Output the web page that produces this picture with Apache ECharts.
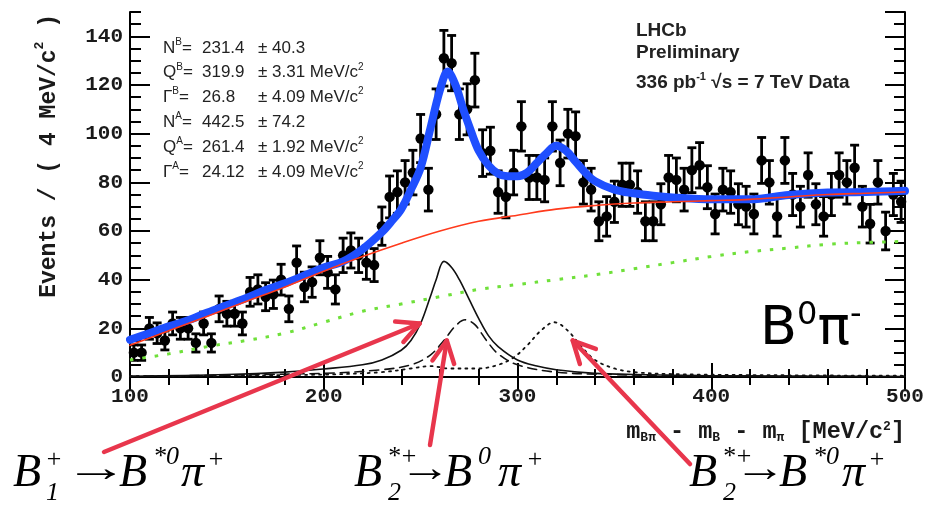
<!DOCTYPE html>
<html>
<head>
<meta charset="utf-8">
<script src="https://cdn.jsdelivr.net/npm/echarts@6/dist/echarts.min.js"></script>
<style>
  html, body { margin: 0; padding: 0; background: #ffffff; }
  #chart { width: 951px; height: 516px; }
</style>
</head>
<body>
<div id="chart"></div>
<script>
// Histogram binning: 100 bins of 4 MeV/c^2 between 100 and 500
const binLow = 100;
const binWidth = 4;

// Events per bin
const counts = [
  10, 10, 20, 18, 15, 22, 20, 20, 14, 22,
  14, 28, 26, 26, 22, 35, 36, 33, 34, 40,
  28, 47, 37, 39, 49, 43, 36, 50, 52, 50,
  47, 46, 62, 74, 76, 80, 84, 98, 77, 108,
  131, 129, 108, 110, 122, 92, 93, 76, 74, 84,
  103, 82, 82, 81, 103, 88, 100, 99, 80, 77,
  64, 66, 72, 79, 79, 76, 64, 64, 71, 82,
  81, 77, 85, 87, 78, 67, 77, 76, 71, 70,
  67, 89, 80, 66, 89, 75, 70, 83, 71, 66,
  75, 83, 80, 86, 70, 63, 80, 60, 75, 72
];

// Total fit (blue)
const totalX = [100,110,120,130,140,150,160,170,180,190,200,210,220,230,235,240,245,250,255,260,264,268,272,276,280,285,290,295,300,305,310,315,320,325,330,335,340,350,360,370,380,400,420,440,460,480,500];
const totalY = [15.3,18,20.8,23.3,26.5,29.5,32.5,35.8,38.5,41.7,45,47.5,52.5,59.5,64,69,77,86,102,118,125.5,120,110,101,93,87,83.5,82.5,82.5,84,88,92,95,93,88.5,84,80.5,77,75.5,74.5,73.8,73,73,74.8,75.8,76,76.5];

// Combinatorial background (red)
const bkgX = [100,120,140,160,180,200,220,240,260,280,300,320,340,360,380,400,420,440,460,480,500];
const bkgY = [13,19,25,31,37,43.5,49.5,55,60,64,66.5,69,70.5,71.5,72,72.5,73,74,75,75.5,76];

// Second background component (green dotted)
const bkg2X = [100,120,140,160,180,200,220,240,260,280,300,320,340,360,380,400,420,440,460,480,500];
const bkg2Y = [7,9.5,12.5,15,18,22.5,27,30,33,36,38,40,42,44.5,47,49.5,51.5,53,54.5,55.3,55.7];

// B1+ -> B*0 pi+ (solid black)
const b1X = [100,150,180,200,220,230,240,245,250,255,258,262,266,270,275,280,285,290,300,310,320,340,360,400,500];
const b1Y = [0.3,1,2,3.3,5,7,11,15,22,33,40,47.5,45,40,32,24,17,12.5,7,4.5,3,1.5,1,0.5,0.2];

// B2*+ -> B0 pi+ (dashed black)
const b2aX = [100,200,230,245,255,262,268,273,278,284,290,300,320,350,400,500];
const b2aY = [0.3,1.5,3,5,9,15,21,23.5,21.5,15,9.5,5,2,1,0.5,0.2];

// B2*+ -> B*0 pi+ (dotted black)
const b2bX = [100,200,230,245,255,265,280,290,298,305,312,319,326,333,340,350,360,380,420,500];
const b2bY = [0.3,1,2,3.5,4.5,3.5,3.5,5,8,13,19,22.5,19,12.5,7,3.5,2,1.2,0.8,0.5];

// Fit results
const paramNames = ['N', 'Q', 'Γ', 'N', 'Q', 'Γ'];
const paramTags = ['B', 'B', 'B', 'A', 'A', 'A'];
const paramValues = ['231.4', '319.9', '26.8', '442.5', '261.4', '24.12'];
const paramErrors = ['40.3', '3.31', '4.09', '74.2', '1.92', '4.09'];
const paramUnits = [false, true, true, false, true, true];

const zip = (xs, ys) => xs.map((x, i) => [x, ys[i]]);

const chart = echarts.init(document.getElementById('chart'), null, { renderer: 'canvas' });

const monoLabel = { fontFamily: 'Liberation Mono', fontWeight: 'bold', color: '#1a1a1a' };
const frameLine = { show: true, lineStyle: { color: '#000', width: 2 } };

function curve(data, color, width, type, z, cap) {
  return {
    type: 'line', data: data, xAxisIndex: 0, yAxisIndex: 0,
    showSymbol: false, symbol: 'none', smooth: 0.35,
    lineStyle: { color: color, width: width, type: type, cap: cap || 'round', join: 'round' },
    silent: true, animation: false, z: z, clip: true
  };
}

const option = {
  animation: false,
  backgroundColor: '#ffffff',
  grid: { left: 130, right: 46, top: 12, bottom: 139, containLabel: false },
  xAxis: [
    {
      type: 'value', min: 100, max: 500, interval: 100, position: 'bottom',
      axisLine: frameLine,
      axisTick: { show: true, inside: true, length: 14, lineStyle: { color: '#000', width: 2 } },
      minorTick: { show: true, splitNumber: 5, length: 8, lineStyle: { color: '#000', width: 2 } },
      axisLabel: Object.assign({ fontSize: 21, margin: 9 }, monoLabel),
      splitLine: { show: false }, minorSplitLine: { show: false }
    },
    {
      type: 'value', min: 100, max: 500, interval: 100, position: 'top',
      axisLine: frameLine,
      axisTick: { show: true, inside: true, length: 14, lineStyle: { color: '#000', width: 2 } },
      minorTick: { show: true, splitNumber: 5, length: 8, lineStyle: { color: '#000', width: 2 } },
      axisLabel: { show: false },
      splitLine: { show: false }, minorSplitLine: { show: false }
    }
  ],
  yAxis: [
    {
      type: 'value', min: 0, max: 150, interval: 20, position: 'left',
      axisLine: frameLine,
      axisTick: { show: true, inside: true, length: 20, lineStyle: { color: '#000', width: 2 } },
      axisLabel: Object.assign({ fontSize: 21, margin: 7, showMaxLabel: false,
        formatter: v => (v % 20 === 0 ? String(v) : '') }, monoLabel),
      splitLine: { show: false }
    },
    {
      type: 'value', min: 0, max: 150, interval: 5, position: 'left',
      axisLine: { show: false },
      axisTick: { show: true, inside: true, length: 11, lineStyle: { color: '#000', width: 2 } },
      axisLabel: { show: false }, splitLine: { show: false }
    },
    {
      type: 'value', min: 0, max: 150, interval: 20, position: 'right',
      axisLine: frameLine,
      axisTick: { show: true, inside: true, length: 20, lineStyle: { color: '#000', width: 2 } },
      axisLabel: { show: false }, splitLine: { show: false }
    },
    {
      type: 'value', min: 0, max: 150, interval: 5, position: 'right',
      axisLine: { show: false },
      axisTick: { show: true, inside: true, length: 11, lineStyle: { color: '#000', width: 2 } },
      axisLabel: { show: false }, splitLine: { show: false }
    }
  ],
  series: [
    {
      type: 'custom', xAxisIndex: 0, yAxisIndex: 0, silent: true, z: 3,
      data: counts.map((n, i) => [binLow + binWidth * (i + 0.5), n, Math.sqrt(n)]),
      renderItem: function (params, api) {
        const x = api.value(0), y = api.value(1), e = api.value(2);
        const c = api.coord([x, y]);
        const lo = api.coord([x, y - e]);
        const hi = api.coord([x, y + e]);
        const st = { stroke: '#000', lineWidth: 2.8 };
        return {
          type: 'group',
          children: [
            { type: 'line', shape: { x1: c[0], y1: lo[1], x2: c[0], y2: hi[1] }, style: st },
            { type: 'line', shape: { x1: c[0] - 4.5, y1: lo[1], x2: c[0] + 4.5, y2: lo[1] }, style: st },
            { type: 'line', shape: { x1: c[0] - 4.5, y1: hi[1], x2: c[0] + 4.5, y2: hi[1] }, style: st },
            { type: 'circle', shape: { cx: c[0], cy: c[1], r: 5.2 }, style: { fill: '#000' } }
          ]
        };
      }
    },
    curve(zip(bkg2X, bkg2Y), '#6fe03a', 3, [3.5, 9], 4, 'butt'),
    curve(zip(totalX, totalY), '#1f4fff', 8, 'solid', 5),
    curve(zip(bkgX, bkgY), '#ff3a1c', 1.6, 'solid', 6),
    curve(zip(b1X, b1Y), '#111111', 1.6, 'solid', 7),
    curve(zip(b2aX, b2aY), '#111111', 1.6, [9, 6], 7),
    curve(zip(b2bX, b2bY), '#111111', 1.8, [2, 5], 7)
  ]
};

chart.setOption(option);

// ---- Annotations ----
const graphics = [];
const txtColor = '#222';

// Y axis title
graphics.push({
  type: 'text', x: 47, y: 14, rotation: Math.PI / 2,
  style: {
    text: '{m|Events / ( 4 MeV/c}{s|2}{m| )}',
    align: 'right', verticalAlign: 'middle',
    rich: {
      m: { fontFamily: 'Liberation Mono', fontWeight: 'bold', fontSize: 23, fill: '#1a1a1a', lineHeight: 28, verticalAlign: 'bottom' },
      s: { fontFamily: 'Liberation Mono', fontWeight: 'bold', fontSize: 13, fill: '#1a1a1a', lineHeight: 13, verticalAlign: 'top' }
    }
  }
});

// X axis title
graphics.push({
  type: 'text', x: 905, y: 432,
  style: {
    text: '{m|m}{b|Bπ}{m| - m}{b|B}{m| - m}{b|π}{m| [MeV/c}{s|2}{m|]}',
    align: 'right', verticalAlign: 'middle',
    rich: {
      m: { fontFamily: 'Liberation Mono', fontWeight: 'bold', fontSize: 23.5, fill: '#1a1a1a', lineHeight: 24, verticalAlign: 'middle' },
      b: { fontFamily: 'Liberation Mono', fontWeight: 'bold', fontSize: 13, fill: '#1a1a1a', lineHeight: 13, verticalAlign: 'bottom' },
      s: { fontFamily: 'Liberation Mono', fontWeight: 'bold', fontSize: 13, fill: '#1a1a1a', lineHeight: 13, verticalAlign: 'top' }
    }
  }
});

// Fit parameter block
const pFont = 'Liberation Sans';
for (let i = 0; i < paramNames.length; i++) {
  const y = 48 + i * 24.8;
  const rich = {
    n: { fontFamily: pFont, fontSize: 17, fill: txtColor, lineHeight: 22, verticalAlign: 'middle' },
    t: { fontFamily: pFont, fontSize: 10, fill: txtColor, lineHeight: 10, verticalAlign: 'top' }
  };
  graphics.push({
    type: 'text', x: 163, y: y,
    style: { text: '{n|' + paramNames[i] + '}{t|' + paramTags[i] + '}{n|=}', verticalAlign: 'middle', rich: rich }
  });
  graphics.push({
    type: 'text', x: 202, y: y,
    style: { text: paramValues[i], verticalAlign: 'middle', fontFamily: pFont, fontSize: 17, fill: txtColor }
  });
  graphics.push({
    type: 'text', x: 258, y: y,
    style: {
      text: '{n|± ' + paramErrors[i] + (paramUnits[i] ? ' MeV/c' : '') + '}' + (paramUnits[i] ? '{t|2}' : ''),
      verticalAlign: 'middle', rich: rich
    }
  });
}

// Experiment label
const expRich = {
  n: { fontFamily: pFont, fontSize: 19, fontWeight: 'bold', fill: txtColor, lineHeight: 24, verticalAlign: 'middle' },
  t: { fontFamily: pFont, fontSize: 11, fontWeight: 'bold', fill: txtColor, lineHeight: 11, verticalAlign: 'top' }
};
graphics.push({ type: 'text', x: 636, y: 31, style: { text: '{n|LHCb}', verticalAlign: 'middle', rich: expRich } });
graphics.push({ type: 'text', x: 636, y: 53, style: { text: '{n|Preliminary}', verticalAlign: 'middle', rich: expRich } });
graphics.push({ type: 'text', x: 636, y: 83, style: { text: '{n|336 pb}{t|-1}{n| √s = 7 TeV Data}', verticalAlign: 'middle', rich: expRich } });

// Channel label
graphics.push({
  type: 'text', x: 760, y: 330,
  style: {
    text: '{n|B}{t|0}{n|π}{t|-}',
    verticalAlign: 'middle',
    rich: {
      n: { fontFamily: 'DejaVu Sans', fontSize: 54, fill: '#000', lineHeight: 60, verticalAlign: 'middle' },
      t: { fontFamily: 'DejaVu Sans', fontSize: 32, fill: '#000', lineHeight: 34, verticalAlign: 'top' }
    }
  }
});

// Decay labels (Times italic with stacked super/subscripts)
const serif = 'Liberation Serif';
function piece(x, y, s, size) {
  graphics.push({ type: 'text', x: x, y: y, style: { text: s, fontFamily: serif, fontStyle: 'italic', fontSize: size, fill: '#000', verticalAlign: 'middle' } });
}
function arrowText(x, y, stretch) {
  graphics.push({ type: 'text', x: x, y: y, scaleX: stretch, style: { text: '→', fontFamily: serif, fontSize: 40, fill: '#000', verticalAlign: 'middle' } });
}
const big = 46, small = 26;
const yMain = 474, ySup = 460, ySub = 493;
// B1+ -> B*0 pi+
piece(13, yMain, 'B', big); piece(45, ySup, '+', small); piece(46, ySub, '1', small);
arrowText(64, yMain - 4, 1.6);
piece(119, yMain, 'B', big); piece(153, ySup - 3, '*0', small); piece(181, yMain, 'π', big); piece(207, ySup, '+', small);
// B2*+ -> B0 pi+
piece(354, yMain, 'B', big); piece(387, ySup - 3, '*+', small); piece(388, ySub, '2', small);
arrowText(399, yMain - 4, 1.3);
piece(444, yMain, 'B', big); piece(478, ySup - 3, '0', small); piece(498, yMain, 'π', big); piece(526, ySup, '+', small);
// B2*+ -> B*0 pi+
piece(689, yMain, 'B', big); piece(722, ySup - 3, '*+', small); piece(723, ySub, '2', small);
arrowText(734, yMain - 4, 1.3);
piece(779, yMain, 'B', big); piece(813, ySup - 3, '*0', small); piece(842, yMain, 'π', big); piece(868, ySup, '+', small);

// Red arrows pointing at the signal components
const arrowColor = '#e8364c';
function redArrow(tail, tip) {
  const dx = tip[0] - tail[0], dy = tip[1] - tail[1];
  const len = Math.sqrt(dx * dx + dy * dy);
  const ux = dx / len, uy = dy / len;
  const h = 22, w = 11;
  const bx = tip[0] - ux * h, by = tip[1] - uy * h;
  const left = [bx - uy * w, by + ux * w];
  const right = [bx + uy * w, by - ux * w];
  graphics.push({ type: 'polyline', shape: { points: [tail, tip] }, style: { stroke: arrowColor, lineWidth: 4.5, fill: null, lineCap: 'round' }, z: 20 });
  graphics.push({ type: 'polyline', shape: { points: [left, tip, right] }, style: { stroke: arrowColor, lineWidth: 4.5, fill: null, lineCap: 'round', lineJoin: 'round' }, z: 20 });
}
const tip1 = chart.convertToPixel({ xAxisIndex: 0, yAxisIndex: 0 }, [249.5, 22]);
const tip2 = chart.convertToPixel({ xAxisIndex: 0, yAxisIndex: 0 }, [263.5, 15]);
const tip3 = chart.convertToPixel({ xAxisIndex: 0, yAxisIndex: 0 }, [328.5, 15]);
redArrow([104, 452], tip1);
redArrow([430, 445], tip2);
redArrow([690, 464], tip3);

chart.setOption({ graphic: graphics });
</script>
</body>
</html>
